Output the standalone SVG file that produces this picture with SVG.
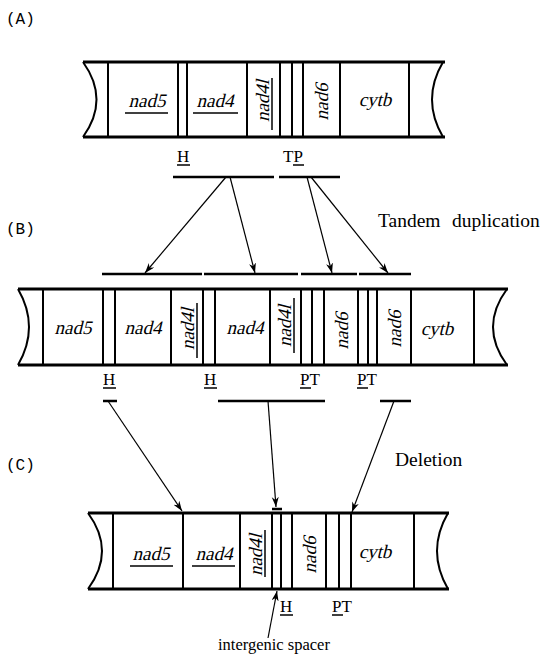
<svg xmlns="http://www.w3.org/2000/svg" width="540" height="655" viewBox="0 0 540 655">
<defs>
<style>
.bg{fill:#fff}
.h{stroke:#000;stroke-width:3;fill:none}
.v{stroke:#000;stroke-width:2;fill:none}
.end{stroke:#000;stroke-width:2;fill:none}
.seg{stroke:#000;stroke-width:2.5;fill:none}
.arr{stroke:#000;stroke-width:1.2;fill:none;marker-end:url(#ah)}
.ul{stroke:#000;stroke-width:1.5}
.g{font-family:"Liberation Serif","Times New Roman",serif;font-style:normal;font-size:19px;fill:#000}
.lab{font-family:"Liberation Serif",serif;font-size:17px;fill:#000}
.big{font-family:"Liberation Serif",serif;font-size:19.5px;fill:#000}
.sm{font-family:"Liberation Serif",serif;font-size:16.5px;fill:#000}
.pl{font-family:"Liberation Mono",monospace;font-size:16px;fill:#000}
</style>
<marker id="ah" markerUnits="userSpaceOnUse" markerWidth="11" markerHeight="8" refX="10" refY="3.5" orient="auto">
<path d="M0,0 L10,3.5 L0,7 L3,3.5 z" fill="#000"/>
</marker>
</defs>
<rect class="bg" x="0" y="0" width="540" height="655"/>

<text class="pl" x="6" y="24">(A)</text>
<text class="pl" x="6" y="234">(B)</text>
<text class="pl" x="6" y="470">(C)</text>

<!-- Panel A -->
<g id="chromA">
<path class="h" d="M83,62 H445 M83,137 H445"/>
<path class="end" d="M83,62 Q110,99.5 83,137 M443,62 Q421,99.5 443,137"/>
<path class="v" d="M108,62V137 M178,62V137 M187,62V137 M247,62V137 M280,62V137 M292,62V137 M303,62V137 M340,62V137 M409,62V137"/>
</g>
<g id="A-nad5"><text class="g" transform="translate(147,107) skewX(-14)" text-anchor="middle">nad5</text><line class="ul" x1="125" y1="113" x2="168" y2="113"/></g>
<g id="A-nad4"><text class="g" transform="translate(215,107) skewX(-14)" text-anchor="middle">nad4</text><line class="ul" x1="193" y1="113" x2="238" y2="113"/></g>
<g id="A-nad4l"><text class="g" transform="translate(269,101) rotate(-90) skewX(-14)" text-anchor="middle">nad4l</text><line class="ul" x1="272" y1="78" x2="272" y2="130"/></g>
<g id="A-nad6"><text class="g" transform="translate(328,102) rotate(-90) skewX(-14)" text-anchor="middle">nad6</text></g>
<g id="A-cytb"><text class="g" transform="translate(375,106) skewX(-14)" text-anchor="middle">cytb</text></g>
<g id="A-H"><text class="lab" x="177" y="162">H</text><line class="ul" x1="177" y1="165" x2="190" y2="165"/></g>
<g id="A-TP"><text class="lab" x="283" y="162">TP</text><line class="ul" x1="293" y1="165" x2="304" y2="165"/></g>

<!-- Panel B -->
<g id="chromB">
<path class="h" d="M18,289 H508 M18,365 H508"/>
<path class="end" d="M18,289 Q40,327 18,365 M507,289 Q479,327 507,365"/>
<path class="v" d="M43,289V365 M103,289V365 M115,289V365 M171,289V365 M203,289V365 M215,289V365 M270,289V365 M301,289V365 M312,289V365 M324,289V365 M358,289V365 M368,289V365 M377,289V365 M411,289V365 M474,289V365"/>
</g>
<g id="B-nad5"><text class="g" transform="translate(73,334) skewX(-14)" text-anchor="middle">nad5</text></g>
<g id="B-nad4a"><text class="g" transform="translate(143,334) skewX(-14)" text-anchor="middle">nad4</text></g>
<g id="B-nad4la"><text class="g" transform="translate(194,329) rotate(-90) skewX(-14)" text-anchor="middle">nad4l</text><line class="ul" x1="197" y1="303" x2="197" y2="358"/></g>
<g id="B-nad4b"><text class="g" transform="translate(245,334) skewX(-14)" text-anchor="middle">nad4</text></g>
<g id="B-nad4lb"><text class="g" transform="translate(291,326) rotate(-90) skewX(-14)" text-anchor="middle">nad4l</text><line class="ul" x1="294" y1="298" x2="294" y2="353"/></g>
<g id="B-nad6a"><text class="g" transform="translate(348,331) rotate(-90) skewX(-14)" text-anchor="middle">nad6</text></g>
<g id="B-nad6b"><text class="g" transform="translate(401,329) rotate(-90) skewX(-14)" text-anchor="middle">nad6</text></g>
<g id="B-cytb"><text class="g" transform="translate(437,335) skewX(-14)" text-anchor="middle">cytb</text></g>
<g id="B-H1"><text class="lab" x="103" y="385">H</text><line class="ul" x1="103" y1="388" x2="116" y2="388"/></g>
<g id="B-H2"><text class="lab" x="204" y="385">H</text><line class="ul" x1="204" y1="388" x2="217" y2="388"/></g>
<g id="B-PT1"><text class="lab" x="300" y="385">PT</text><line class="ul" x1="300" y1="388" x2="311" y2="388"/></g>
<g id="B-PT2"><text class="lab" x="357" y="385">PT</text><line class="ul" x1="357" y1="388" x2="368" y2="388"/></g>

<!-- Panel C -->
<g id="chromC">
<path class="h" d="M88,513 H449 M88,589 H449"/>
<path class="end" d="M88,513 Q116,551 88,589 M448,513 Q426,551 448,589"/>
<path class="v" d="M113,513V589 M183,513V589 M240,513V589 M272,513V589 M281,513V589 M292,513V589 M326,513V589 M339,513V589 M351,513V589 M414,513V589"/>
</g>
<g id="C-nad5"><text class="g" transform="translate(151,560) skewX(-14)" text-anchor="middle">nad5</text><line class="ul" x1="130" y1="566" x2="173" y2="566"/></g>
<g id="C-nad4"><text class="g" transform="translate(214,560) skewX(-14)" text-anchor="middle">nad4</text><line class="ul" x1="192" y1="566" x2="235" y2="566"/></g>
<g id="C-nad4l"><text class="g" transform="translate(262,555) rotate(-90) skewX(-14)" text-anchor="middle">nad4l</text><line class="ul" x1="265" y1="530" x2="265" y2="577"/></g>
<g id="C-nad6"><text class="g" transform="translate(316,555) rotate(-90) skewX(-14)" text-anchor="middle">nad6</text></g>
<g id="C-cytb"><text class="g" transform="translate(375,558) skewX(-14)" text-anchor="middle">cytb</text></g>
<g id="C-H"><text class="lab" x="280" y="612">H</text><line class="ul" x1="280" y1="615" x2="293" y2="615"/></g>
<g id="C-PT"><text class="lab" x="332" y="612">PT</text><line class="ul" x1="332" y1="615" x2="343" y2="615"/></g>
<g id="C-spacer"><text class="sm" x="218" y="650">intergenic spacer</text></g>

<!-- segments -->
<g id="segments">
<path class="seg" d="M173,177H274 M279,177H340"/>
<path class="seg" d="M102,274H202 M204,274H298 M301,274H357 M359,274H411"/>
<path class="seg" d="M103,401H117 M218,401H325 M380,401H411"/>
<path class="seg" d="M272,509H282"/>
</g>

<text class="big" x="378" y="227">Tandem</text>
<text class="big" x="452" y="227">duplication</text>
<text class="big" x="395" y="466">Deletion</text>

<!-- connectors -->
<g id="connectors">
<line class="arr" x1="226" y1="177" x2="145" y2="273"/>
<line class="arr" x1="230" y1="177" x2="255" y2="273"/>
<line class="arr" x1="307" y1="177" x2="332" y2="273"/>
<line class="arr" x1="311" y1="177" x2="388" y2="273"/>
<line class="arr" x1="108" y1="401" x2="182" y2="511"/>
<line class="arr" x1="268" y1="401" x2="276" y2="507"/>
<line class="arr" x1="394" y1="401" x2="352" y2="512"/>
<line class="arr" x1="268" y1="638" x2="277" y2="591"/>
</g>
</svg>
